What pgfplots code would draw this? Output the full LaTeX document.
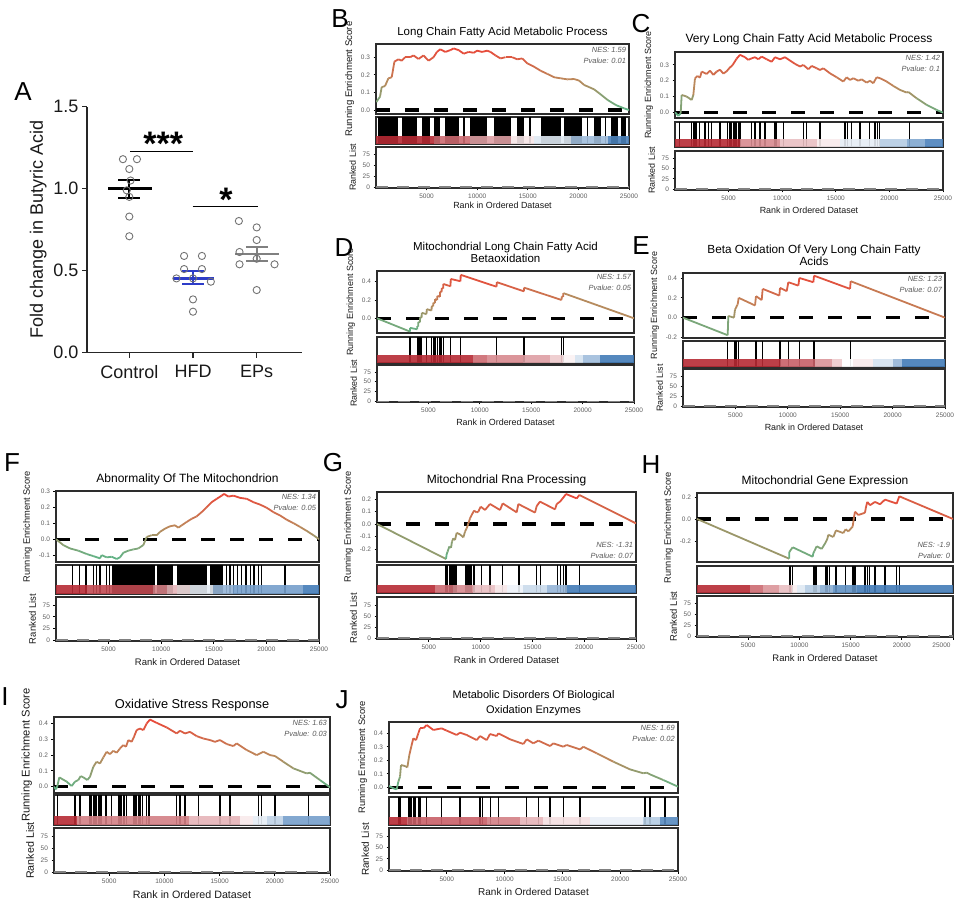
\documentclass[border=0pt]{standalone}
\usepackage{fontspec}
\setmainfont{Liberation Sans}
\usepackage{pgfplots}
\pgfplotsset{compat=1.18}
\definecolor{RedD}{RGB}{182,42,52}
\definecolor{BlueD}{RGB}{45,108,175}
\definecolor{fr}{RGB}{45,45,45}
\definecolor{tg}{RGB}{95,95,95}
\definecolor{hfdblue}{RGB}{45,60,200}
\pgfplotsset{colormap={esmap}{rgb255=(95,180,135) rgb255=(190,135,90) rgb255=(234,70,56)}}
\pgfplotsset{
 gbase/.style={scale only axis, anchor=north west, xmin=0, xmax=25000,
   /pgf/number format/assume math mode=true,
   tick label style={font=\fontsize{6.5}{7}\selectfont, text=tg},
   tick style={black, line width=0.9pt}, major tick length=2.5pt, tick align=outside,
   label style={text=black!90}},
 gtop/.style={gbase, axis line style={draw=fr, line width=2.6pt}, xtick=\empty, ytick pos=left,
   yticklabel style={/pgf/number format/.cd, fixed, fixed zerofill, precision=1},
   ylabel={Running Enrichment Score}, every axis title shift=0pt,
   title style={anchor=center, at={(0.5,1)}, align=center, text=black}},
 gbar/.style={gbase, axis line style={draw=fr, line width=1.8pt}, xtick=\empty, ytick=\empty, ymin=0, ymax=1},
 grank/.style={gbase, axis line style={draw=fr, line width=1.8pt}, ymin=-2, ymax=93, ytick={0,25,50,75},
   xtick={5000,10000,15000,20000,25000}, xtick pos=bottom, ytick pos=left, scaled x ticks=false,
   xticklabel style={/pgf/number format/1000 sep={}},
   xlabel={Rank in Ordered Dataset}, ylabel={Ranked List}},
 es/.style={mesh, point meta=y, colormap name=esmap, line width=1.8pt},
 zl/.style={black, line width=3.2pt, dash pattern=on 14pt off 15pt},
 barl/.style={ycomb, black, line width=1.4pt, mark=none},
}
\newcommand{\blk}[3]{\addplot[fill=#3, draw=none, fill opacity=0.9] coordinates {(#1,0.3) (#2,0.3)} \closedcycle;}
\newcommand{\bblk}[2]{\addplot[fill=black, draw=none] coordinates {(#1,1) (#2,1)} \closedcycle;}
\newcommand{\rankzero}{\addplot[black!50, line width=1.4pt, dash pattern=on 12pt off 9pt] coordinates {(0,0) (25000,0)};}
\newcommand{\nes}[2]{\node[anchor=north east, align=right, font=\fontsize{7.5}{11}\selectfont\itshape, text=black!65, inner sep=1pt] at (rel axis cs:0.993,0.97) {NES: #1\\Pvalue: #2};}
\newcommand{\nesb}[2]{\node[anchor=south east, align=right, font=\fontsize{7.5}{11}\selectfont\itshape, text=black!65, inner sep=1pt] at (rel axis cs:0.993,0.03) {NES: #1\\Pvalue: #2};}
\newcommand{\lett}[3]{\node[font=\fontsize{26}{26}\selectfont, anchor=center] at (#1pt,-#2pt) {#3};}
\begin{document}
\begin{tikzpicture}
\path[use as bounding box] (0pt,0pt) rectangle (958pt,-912pt);

% ---------------- Panel A ----------------
\begin{axis}[at={(87pt,-352.7pt)}, anchor=south west, scale only axis, width=215pt, height=246pt,
 xmin=-0.664, xmax=2.711, ymin=0, ymax=1.5, axis lines=left, axis line style={-, line width=1.3pt, draw=black!85},
 xtick={0,1,2}, xticklabels={Control,HFD,EPs}, ytick={0,0.5,1,1.5},
 yticklabel style={/pgf/number format/.cd,fixed,fixed zerofill,precision=1},
 xticklabel style={yshift=-4pt},
 /pgf/number format/assume math mode=true,
 tick align=outside, major tick length=5pt, tick style={line width=1.3pt, black!85},
 tick label style={font=\fontsize{18}{18}\selectfont, text=black!90},
 ylabel={Fold change in Butyric Acid}, ylabel style={font=\fontsize{18}{18}\selectfont, text=black!90},
 clip=false]
\addplot[only marks, mark=o, mark size=3.6pt, mark options={draw=black!55, line width=0.9pt}] coordinates {
 (-0.10,1.18) (0.12,1.18) (0,1.12) (0.02,1.05) (-0.04,0.99) (0,0.95) (0,0.83) (0,0.71)
 (0.86,0.59) (1.14,0.59) (0.86,0.51) (1.14,0.51) (0.74,0.453) (1.0,0.453) (1.28,0.433) (1.0,0.325) (1.0,0.25)
 (1.72,0.803) (2.0,0.764) (2.0,0.687) (1.73,0.614) (2.0,0.573) (1.73,0.539) (2.28,0.539) (2.0,0.382)};
\addplot[black, line width=2.4pt] coordinates {(-0.33,1.0) (0.35,1.0)};
\addplot[black, line width=2pt] coordinates {(0,0.945) (0,1.055)};
\addplot[black, line width=2pt] coordinates {(-0.17,0.945) (0.17,0.945)};
\addplot[black, line width=2pt] coordinates {(-0.17,1.055) (0.17,1.055)};
\addplot[hfdblue, line width=2.4pt] coordinates {(0.68,0.453) (1.33,0.453)};
\addplot[hfdblue, line width=2pt] coordinates {(1,0.419) (1,0.496)};
\addplot[hfdblue, line width=2pt] coordinates {(0.83,0.419) (1.17,0.419)};
\addplot[hfdblue, line width=2pt] coordinates {(0.83,0.496) (1.17,0.496)};
\addplot[black!50, line width=2.4pt] coordinates {(1.66,0.602) (2.35,0.602)};
\addplot[black!50, line width=2pt] coordinates {(2,0.557) (2,0.646)};
\addplot[black!50, line width=2pt] coordinates {(1.83,0.557) (2.17,0.557)};
\addplot[black!50, line width=2pt] coordinates {(1.83,0.646) (2.17,0.646)};
\addplot[black, line width=1pt] coordinates {(0.01,1.226) (0.995,1.226)};
\addplot[black, line width=1pt] coordinates {(0.995,0.89) (2.025,0.89)};
\node[font=\fontsize{34}{34}\selectfont\bfseries, inner sep=0, anchor=base] at (axis cs:0.534,1.20) {***};
\node[font=\fontsize{34}{34}\selectfont\bfseries, inner sep=0, anchor=base] at (axis cs:1.518,0.86) {*};
\end{axis}

% ---------------- Panel B ----------------
\begin{axis}[gtop, at={(376pt,-44pt)}, width=253pt, height=70pt, ymin=-0.0227, ymax=0.375, ytick={0,0.1,0.2,0.3},
 title={Long Chain Fatty Acid Metabolic Process}, title style={font=\fontsize{11.5}{12.5}\selectfont, yshift=11pt},
 label style={font=\fontsize{9.6}{10}\selectfont}]
\addplot[zl] coordinates {(0,0) (25000,0)};
\addplot[es] coordinates {(30,0.045) (397,0.076) (562,0.13) (893,0.136) (1224,0.18) (1554,0.186) (1819,0.275) (2216,0.288) (2546,0.28) (2877,0.30) (3373,0.30) (3704,0.31) (4200,0.29) (4696,0.31) (5192,0.28) (5688,0.30) (6019,0.33) (6349,0.345) (6845,0.33) (7342,0.34) (7672,0.35) (8168,0.34) (8664,0.32) (9160,0.33) (9656,0.325) (9987,0.337) (10483,0.33) (10979,0.337) (11310,0.33) (11806,0.31) (12302,0.293) (12798,0.30) (13459,0.30) (13956,0.288) (14452,0.293) (14948,0.265) (15609,0.246) (16270,0.223) (16932,0.205) (17593,0.186) (18254,0.18) (18916,0.174) (19577,0.176) (20073,0.167) (20569,0.142) (21065,0.13) (21562,0.117) (22058,0.095) (22884,0.057) (23711,0.028) (24538,0.009) (25000,0.0)};
\nes{1.59}{0.01}
\end{axis}
\begin{axis}[gbar, at={(376pt,-117pt)}, width=253pt, height=27pt]
\bblk{231}{2216} \bblk{2546}{4100} \bblk{4530}{5291} \bblk{5688}{6349} \bblk{6845}{8168} \bblk{9325}{10979} \bblk{11641}{13294} \bblk{13956}{14617} \bblk{16270}{18254} \bblk{18585}{20404} \bblk{21562}{22223} \bblk{23215}{23876} \bblk{24207}{24703}
\addplot[barl] coordinates {(8700,1) (15200,1) (20900,1) (22700,1)};
\blk{0}{5688}{RedD} \blk{5688}{9325}{RedD!70!white} \blk{9325}{13294}{RedD!45!white} \blk{13294}{15609}{RedD!12!white} \blk{15609}{19246}{BlueD!15!white} \blk{19246}{22884}{BlueD!45!white} \blk{22884}{25000}{BlueD!85!white}
\end{axis}
\begin{axis}[grank, at={(376pt,-147pt)}, width=253pt, height=41pt, label style={font=\fontsize{8.9}{9}\selectfont}, xlabel style={yshift=3pt}]
\rankzero
\end{axis}

% ---------------- Panel C ----------------
\begin{axis}[gtop, at={(675pt,-52pt)}, width=268pt, height=66pt, ymin=-0.036, ymax=0.382, ytick={0,0.1,0.2,0.3},
 title={Very Long Chain Fatty Acid Metabolic Process}, title style={font=\fontsize{12}{13}\selectfont, yshift=13pt},
 label style={font=\fontsize{9}{10}\selectfont}]
\addplot[zl] coordinates {(0,0) (25000,0)};
\addplot[es] coordinates {(0,0) (93,-0.006) (311,-0.023) (529,-0.006) (622,0.11) (1088,0.10) (1554,0.078) (1710,0.11) (1865,0.215) (2083,0.23) (2332,0.22) (2487,0.258) (2954,0.243) (3264,0.264) (3575,0.237) (3886,0.258) (4197,0.27) (4508,0.245) (4819,0.26) (5068,0.28) (5379,0.30) (5752,0.34) (6063,0.364) (6529,0.349) (6840,0.332) (7151,0.342) (7462,0.349) (7773,0.336) (8083,0.353) (8550,0.336) (9016,0.32) (9327,0.349) (9793,0.336) (10260,0.349) (10726,0.328) (11192,0.307) (11659,0.29) (11970,0.30) (12436,0.273) (12747,0.294) (13213,0.279) (13524,0.268) (13835,0.279) (14457,0.247) (15079,0.222) (15700,0.195) (16011,0.222) (16322,0.205) (16633,0.216) (17100,0.20) (17410,0.209) (17877,0.188) (18188,0.20) (18499,0.184) (18810,0.222) (19120,0.216) (19742,0.195) (20364,0.167) (20986,0.142) (21608,0.125) (21763,0.129) (22540,0.089) (23473,0.047) (24406,0.015) (25000,-0.002)};
\nes{1.42}{0.1}
\end{axis}
\begin{axis}[gbar, at={(675pt,-122pt)}, width=268pt, height=25pt]
\addplot[barl] coordinates {(404,1) (1554,1) (1710,1) (1865,1) (2021,1) (2270,1) (2798,1) (3109,1) (3420,1) (4197,1) (4881,1) (5130,1) (5285,1) (5441,1) (5596,1) (5752,1) (5907,1) (6063,1) (7151,1) (7462,1) (7928,1) (8394,1) (9327,1) (9482,1) (10104,1) (11970,1) (12281,1) (13524,1) (15856,1) (16073,1) (16477,1) (17255,1) (18125,1) (18654,1) (18872,1) (19058,1) (21856,1)};
\blk{0}{6063}{RedD} \blk{6063}{9793}{RedD!55!white} \blk{9793}{13213}{RedD!30!white} \blk{13213}{15390}{RedD!10!white} \blk{15390}{19120}{BlueD!12!white} \blk{19120}{21608}{BlueD!35!white} \blk{21608}{23318}{BlueD!60!white} \blk{23318}{25000}{BlueD!85!white}
\end{axis}
\begin{axis}[grank, at={(675pt,-151pt)}, width=268pt, height=39pt, label style={font=\fontsize{8.9}{9}\selectfont}]
\rankzero
\end{axis}

% ---------------- Panel D ----------------
\begin{axis}[gtop, at={(377pt,-271pt)}, width=257pt, height=62pt, ymin=-0.161, ymax=0.517, ytick={0,0.2,0.4},
 title={Mitochondrial Long Chain Fatty Acid\\Betaoxidation}, title style={font=\fontsize{11.5}{11.5}\selectfont, yshift=18.5pt},
 label style={font=\fontsize{9}{10}\selectfont}]
\addplot[zl] coordinates {(0,0) (25000,0)};
\addplot[es] coordinates {(0,0) (3200,-0.145) (3215,-0.105) (3910,-0.12) (3925,-0.085) (4010,-0.09) (4025,-0.04) (4170,-0.045) (4185,0.01) (4335,0.005) (4350,0.06) (4820,0.045) (4835,0.10) (5305,0.085) (5320,0.135) (5470,0.13) (5485,0.17) (5630,0.165) (5645,0.21) (5860,0.20) (5875,0.245) (6115,0.235) (6130,0.29) (6280,0.285) (6295,0.33) (6440,0.325) (6455,0.375) (7150,0.35) (7170,0.43) (8125,0.405) (8140,0.475) (11630,0.345) (11645,0.395) (14290,0.295) (14305,0.335) (17950,0.20) (17970,0.24) (18115,0.235) (18130,0.275) (25000,0)};
\nes{1.57}{0.05}
\end{axis}
\begin{axis}[gbar, at={(377pt,-337pt)}, width=257pt, height=26pt]
\addplot[barl] coordinates {(3211,1) (3924,1) (4021,1) (4183,1) (4346,1) (4832,1) (5319,1) (5481,1) (5643,1) (5870,1) (6129,1) (6291,1) (6454,1) (7167,1) (8140,1) (11642,1) (14302,1) (17966,1) (18128,1)};
\blk{0}{9372}{RedD} \blk{9372}{10669}{RedD!70!white} \blk{10669}{14237}{RedD!55!white} \blk{14237}{16831}{RedD!45!white} \blk{16831}{18128}{RedD!25!white} \blk{18128}{19263}{RedD!6!white} \blk{19263}{20074}{BlueD!20!white} \blk{20074}{21696}{BlueD!45!white} \blk{21696}{25000}{BlueD!90!white}
\end{axis}
\begin{axis}[grank, at={(377pt,-365pt)}, width=257pt, height=37pt, label style={font=\fontsize{8.9}{9}\selectfont}]
\rankzero
\end{axis}

% ---------------- Panel E ----------------
\begin{axis}[gtop, at={(683pt,-273pt)}, width=262pt, height=65pt, ymin=-0.205, ymax=0.45, ytick={-0.2,0,0.2,0.4},
 title={Beta Oxidation Of Very Long Chain Fatty\\Acids}, title style={font=\fontsize{11.8}{12.5}\selectfont, yshift=17.5pt},
 label style={font=\fontsize{9}{10}\selectfont}]
\addplot[zl] coordinates {(0,0) (25000,0)};
\addplot[es] coordinates {(0,0) (4263,-0.177) (4325,0.017) (4867,0.0) (4962,0.083) (5058,0.097) (5121,0.117) (5217,0.133) (5312,0.20) (6871,0.123) (6966,0.217) (7507,0.177) (7603,0.29) (9193,0.223) (9257,0.30) (9893,0.267) (10052,0.357) (11006,0.323) (11102,0.40) (12438,0.357) (12501,0.423) (15937,0.29) (16000,0.367) (25000,0)};
\nes{1.23}{0.07}
\end{axis}
\begin{axis}[gbar, at={(683pt,-341pt)}, width=262pt, height=26pt]
\addplot[barl] coordinates {(4263,1) (4962,1) (5121,1) (5280,1) (6966,1) (7603,1) (9257,1) (10052,1) (11102,1) (12501,1) (16000,1)};
\blk{0}{9257}{RedD} \blk{9257}{12596}{RedD!75!white} \blk{12596}{14187}{RedD!50!white} \blk{14187}{15141}{RedD!25!white} \blk{15141}{16254}{white} \blk{16254}{18163}{RedD!10!white} \blk{18163}{20071}{BlueD!20!white} \blk{20071}{20866}{BlueD!50!white} \blk{20866}{25000}{BlueD!90!white}
\end{axis}
\begin{axis}[grank, at={(683pt,-369pt)}, width=262pt, height=38pt, label style={font=\fontsize{8.9}{9}\selectfont}]
\rankzero
\end{axis}

% ---------------- Panel F ----------------
\begin{axis}[gtop, at={(56pt,-491pt)}, width=263pt, height=71pt, ymin=-0.143, ymax=0.302, ytick={-0.1,0,0.1,0.2,0.3},
 title={Abnormality Of The Mitochondrion}, title style={font=\fontsize{12}{13}\selectfont, yshift=11.5pt},
 label style={font=\fontsize{9.3}{10}\selectfont}]
\addplot[zl] coordinates {(0,0) (25000,0)};
\addplot[es] coordinates {(0,0) (697,-0.037) (1331,-0.058) (2123,-0.072) (2915,-0.093) (3549,-0.106) (4183,-0.12) (4342,-0.10) (4817,-0.114) (5292,-0.11) (5768,-0.124) (6084,-0.114) (6401,-0.085) (6877,-0.072) (7352,-0.064) (7827,-0.058) (8303,-0.037) (8620,0.014) (9095,0.025) (9570,0.025) (9887,0.046) (10363,0.066) (10838,0.081) (11313,0.087) (11630,0.072) (11947,0.087) (12422,0.108) (12898,0.128) (13373,0.143) (13849,0.17) (14324,0.20) (14799,0.232) (15275,0.253) (15750,0.273) (15972,0.284) (16384,0.267) (16859,0.273) (17493,0.259) (18127,0.253) (18761,0.232) (19395,0.217) (20028,0.197) (20662,0.17) (21296,0.149) (21930,0.122) (22563,0.101) (23197,0.077) (23831,0.052) (24465,0.025) (25000,0)};
\nes{1.34}{0.05}
\end{axis}
\begin{axis}[gbar, at={(56pt,-565pt)}, width=263pt, height=29pt]
\addplot[barl] coordinates {(1585,1) (2218,1) (2852,1) (3549,1) (3866,1) (4183,1) (4817,1) (5070,1) (16225,1) (16542,1) (16859,1) (17239,1) (17651,1) (18063,1) (18507,1) (18824,1) (19236,1) (19553,1) (21771,1)};
\bblk{5292}{9412} \bblk{9570}{11155} \bblk{11472}{14324} \bblk{14641}{15845}
\blk{0}{2915}{RedD} \blk{2915}{9253}{RedD!85!white} \blk{9253}{10521}{RedD!60!white} \blk{10521}{11472}{RedD!35!white} \blk{11472}{12739}{RedD!15!white} \blk{12739}{14958}{BlueD!12!white} \blk{14958}{16859}{BlueD!50!white} \blk{16859}{23514}{BlueD!65!white} \blk{23514}{25000}{BlueD!90!white}
\end{axis}
\begin{axis}[grank, at={(56pt,-597pt)}, width=263pt, height=44pt, label style={font=\fontsize{9.5}{10}\selectfont}]
\rankzero
\end{axis}

% ---------------- Panel G ----------------
\begin{axis}[gtop, at={(377pt,-492pt)}, width=259pt, height=70pt, ymin=-0.304, ymax=0.256, ytick={-0.2,-0.1,0,0.1,0.2},
 title={Mitochondrial Rna Processing}, title style={font=\fontsize{12}{13}\selectfont, yshift=12pt},
 label style={font=\fontsize{9.3}{10}\selectfont}]
\addplot[zl] coordinates {(0,0) (25000,0)};
\addplot[es] coordinates {(0,0) (6661,-0.28) (6726,-0.24) (6822,-0.22) (6983,-0.18) (7144,-0.19) (7241,-0.14) (7369,-0.115) (7530,-0.128) (7691,-0.07) (8013,-0.083) (8335,-0.107) (8496,-0.061) (8656,-0.035) (8817,0.005) (8978,0.045) (9139,0.072) (9364,0.107) (9622,0.093) (9783,0.099) (10008,0.139) (10426,0.112) (10909,0.16) (11874,0.112) (12132,0.165) (13483,0.093) (13644,0.16) (15253,0.091) (15414,0.144) (15736,0.179) (17184,0.117) (17345,0.16) (17667,0.179) (17924,0.205) (18246,0.24) (19276,0.205) (19533,0.232) (25000,0.005)};
\nesb{-1.31}{0.07}
\end{axis}
\begin{axis}[gbar, at={(377pt,-565pt)}, width=259pt, height=28pt]
\addplot[barl] coordinates {(6661,1) (6822,1) (6983,1) (7144,1) (7273,1) (7434,1) (7627,1) (8592,1) (8720,1) (8849,1) (8978,1) (9139,1) (9364,1) (10104,1) (10909,1) (12132,1) (13709,1) (15414,1) (15800,1) (17409,1) (17731,1) (17988,1) (18246,1) (19533,1)};
\blk{0}{5599}{RedD} \blk{5599}{7369}{RedD!70!white} \blk{7369}{9300}{RedD!55!white} \blk{9300}{11392}{RedD!30!white} \blk{11392}{12518}{RedD!12!white} \blk{12518}{14126}{BlueD!8!white} \blk{14126}{16378}{BlueD!25!white} \blk{16378}{18310}{BlueD!50!white} \blk{18310}{25000}{BlueD!90!white}
\end{axis}
\begin{axis}[grank, at={(377pt,-597pt)}, width=259pt, height=42pt, label style={font=\fontsize{9.5}{10}\selectfont}]
\rankzero
\end{axis}

% ---------------- Panel H ----------------
\begin{axis}[gtop, at={(697pt,-493pt)}, width=256pt, height=69pt, ymin=-0.391, ymax=0.236, ytick={-0.2,0,0.2},
 title={Mitochondrial Gene Expression}, title style={font=\fontsize{12}{13}\selectfont, yshift=12pt},
 label style={font=\fontsize{9.3}{10}\selectfont}]
\addplot[zl] coordinates {(0,0) (25000,0)};
\addplot[es] coordinates {(0,0) (9000,-0.361) (9016,-0.30) (9342,-0.257) (11295,-0.343) (11360,-0.31) (11458,-0.293) (11685,-0.248) (12174,-0.272) (12532,-0.218) (12727,-0.182) (12825,-0.143) (13313,-0.164) (13573,-0.104) (14289,-0.128) (14517,-0.093) (14778,-0.113) (15201,-0.069) (15331,0.015) (15429,0.066) (15754,0.036) (16405,0.057) (16503,0.11) (16633,0.155) (16893,0.125) (17382,0.155) (17870,0.134) (18358,0.176) (19497,0.14) (19758,0.206) (25000,0)};
\nesb{-1.9}{0}
\end{axis}
\begin{axis}[gbar, at={(697pt,-566pt)}, width=256pt, height=27pt]
\addplot[barl] coordinates {(9016,1) (9147,1) (9342,1) (11360,1) (11458,1) (11555,1) (11685,1) (12597,1) (12727,1) (12922,1) (13573,1) (14517,1) (15201,1) (15266,1) (15331,1) (15429,1) (16405,1) (16633,1) (16828,1) (17382,1) (18358,1) (19497,1) (19758,1)};
\blk{0}{5175}{RedD} \blk{5175}{6477}{RedD!70!white} \blk{6477}{8040}{RedD!50!white} \blk{8040}{9244}{RedD!30!white} \blk{9244}{9733}{RedD!8!white} \blk{9733}{10547}{BlueD!15!white} \blk{10547}{12011}{BlueD!35!white} \blk{12011}{13313}{BlueD!55!white} \blk{13313}{15592}{BlueD!75!white} \blk{15592}{25000}{BlueD!90!white}
\end{axis}
\begin{axis}[grank, at={(697pt,-596pt)}, width=256pt, height=41pt, label style={font=\fontsize{9.5}{10}\selectfont},
 xticklabels={5000,10000,15000,20000,{\makebox[0pt][r]{25000}\hspace*{5pt}}}]
\rankzero
\end{axis}

% ---------------- Panel I ----------------
\begin{axis}[gtop, at={(54pt,-717pt)}, width=276pt, height=76pt, ymin=-0.04, ymax=0.441, ytick={0,0.1,0.2,0.3,0.4},
 title={Oxidative Stress Response}, title style={font=\fontsize{12.8}{13.5}\selectfont, yshift=12pt},
 label style={font=\fontsize{11.2}{11}\selectfont}]
\addplot[zl] coordinates {(0,0) (25000,0)};
\addplot[es] coordinates {(0,0) (181,-0.017) (302,0.004) (483,0.059) (1147,0.032) (1600,0.004) (1902,0.032) (2204,0.042) (2415,0.067) (2657,0.059) (3019,0.042) (3261,0.063) (3562,0.126) (3864,0.158) (4166,0.147) (4468,0.185) (4770,0.221) (5072,0.206) (5374,0.227) (5676,0.215) (5978,0.242) (6280,0.263) (6521,0.253) (6732,0.295) (7034,0.284) (7246,0.316) (7487,0.358) (7789,0.368) (8091,0.358) (8393,0.40) (8695,0.425) (9299,0.404) (10204,0.375) (11110,0.337) (11412,0.354) (11865,0.337) (12318,0.347) (12921,0.32) (13525,0.305) (14129,0.295) (14582,0.284) (15034,0.295) (15638,0.27) (16242,0.257) (16544,0.274) (17450,0.232) (18356,0.20) (18959,0.221) (19563,0.20) (20016,0.194) (20771,0.158) (21676,0.116) (22884,0.084) (23186,0.088) (24092,0.042) (25000,-0.004)};
\nes{1.63}{0.03}
\end{axis}
\begin{axis}[gbar, at={(54pt,-795pt)}, width=276pt, height=30pt]
\addplot[barl] coordinates {(302,1) (1902,1) (2355,1) (3200,1) (3321,1) (3411,1) (3562,1) (3713,1) (3864,1) (4015,1) (4166,1) (4317,1) (4710,1) (5223,1) (5827,1) (5978,1) (6129,1) (6340,1) (6582,1) (7185,1) (7336,1) (7487,1) (7638,1) (7789,1) (8030,1) (8393,1) (8604,1) (11110,1) (11412,1) (11865,1) (13072,1) (15034,1) (15940,1) (18507,1) (18808,1) (20016,1) (23035,1)};
\blk{0}{2053}{RedD} \blk{2053}{12224}{RedD!60!white} \blk{12224}{16846}{RedD!35!white} \blk{16846}{18054}{RedD!10!white} \blk{18054}{19261}{BlueD!12!white} \blk{19261}{20771}{BlueD!30!white} \blk{20771}{25000}{BlueD!65!white}
\end{axis}
\begin{axis}[grank, at={(54pt,-828pt)}, width=276pt, height=45pt, label style={font=\fontsize{10.7}{11}\selectfont}]
\rankzero
\end{axis}

% ---------------- Panel J ----------------
\begin{axis}[gtop, at={(389pt,-722pt)}, width=289pt, height=71pt, ymin=-0.042, ymax=0.484, ytick={0,0.1,0.2,0.3,0.4},
 title={Metabolic Disorders Of Biological\\Oxidation Enzymes}, title style={font=\fontsize{11}{15}\selectfont, yshift=18.5pt},
 label style={font=\fontsize{9.4}{11}\selectfont}]
\addplot[zl] coordinates {(0,0) (25000,0)};
\addplot[es] coordinates {(0,0.01) (375,-0.007) (663,-0.015) (808,0.042) (952,0.079) (1038,0.165) (1384,0.158) (1586,0.148) (1759,0.24) (1961,0.314) (2105,0.363) (2336,0.35) (2538,0.40) (2682,0.437) (2971,0.437) (3115,0.449) (3259,0.462) (3836,0.425) (4557,0.437) (4989,0.42) (5854,0.388) (6143,0.405) (6720,0.388) (7585,0.35) (7873,0.38) (8450,0.35) (8739,0.395) (9315,0.38) (9460,0.40) (10469,0.356) (11623,0.321) (11911,0.356) (12488,0.326) (12920,0.346) (13930,0.306) (14218,0.326) (15083,0.301) (15371,0.314) (16525,0.281) (16813,0.301) (17967,0.252) (19409,0.19) (20851,0.133) (22005,0.104) (22293,0.109) (22581,0.096) (23734,0.054) (25000,0.005)};
\nes{1.69}{0.02}
\end{axis}
\begin{axis}[gbar, at={(389pt,-797pt)}, width=289pt, height=28pt]
\addplot[barl] coordinates {(808,1) (952,1) (1673,1) (1817,1) (1961,1) (2105,1) (2249,1) (2538,1) (2682,1) (3259,1) (4557,1) (6143,1) (7816,1) (7931,1) (8104,1) (8796,1) (9460,1) (11911,1) (12920,1) (13930,1) (15083,1) (16525,1) (22149,1) (22581,1) (23879,1)};
\blk{0}{1528}{RedD} \blk{1528}{8450}{RedD!75!white} \blk{8450}{11334}{RedD!60!white} \blk{11334}{13353}{RedD!35!white} \blk{13353}{17390}{RedD!15!white} \blk{17390}{21995}{BlueD!10!white} \blk{21995}{23437}{BlueD!35!white} \blk{23437}{25000}{BlueD!80!white}
\end{axis}
\begin{axis}[grank, at={(389pt,-828pt)}, width=289pt, height=43pt, label style={font=\fontsize{10}{11}\selectfont}]
\rankzero
\end{axis}

% panel letters
\lett{23}{92}{A}
\lett{340}{19}{B}
\lett{641}{24}{C}
\lett{344}{248}{D}
\lett{641}{246}{E}
\lett{12}{463}{F}
\lett{333}{463}{G}
\lett{651}{465}{H}
\lett{5}{697}{I}
\lett{342}{700}{J}
\end{tikzpicture}
\end{document}
